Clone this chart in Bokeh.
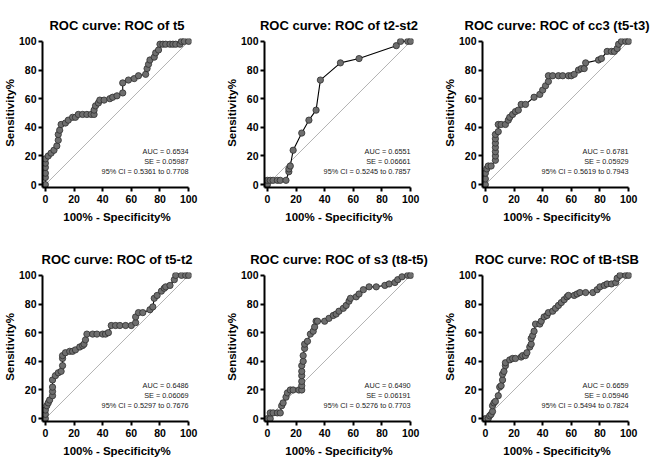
from bokeh.plotting import figure
from bokeh.layouts import column, row
from bokeh.models import Range1d, FixedTicker, ColumnDataSource
from bokeh.embed import file_html
from bokeh.resources import INLINE
from bokeh.core.properties import value

# ---------------- data ----------------
ticks = [0, 20, 40, 60, 80, 100]
chance_x = [0, 100]
chance_y = [0, 100]

titles = [
    "ROC curve: ROC of t5",
    "ROC curve: ROC of t2-st2",
    "ROC curve: ROC of cc3 (t5-t3)",
    "ROC curve: ROC of t5-t2",
    "ROC curve: ROC of s3 (t8-t5)",
    "ROC curve: ROC of tB-tSB",
]

x_label = "100% - Specificity%"
y_label = "Sensitivity%"

# 100% - Specificity% (x) and Sensitivity% (y)
t5_x = [0, 0, 0, 0, 0, 0, 2, 4, 6, 8, 9, 9, 10, 11, 14, 16, 19, 21, 23, 26, 29, 32, 34, 34, 35, 37,
        38, 41, 45, 47, 50, 54, 54, 58, 62, 65, 70, 71, 72, 73, 76, 77, 79, 80, 82, 84, 87, 89, 91,
        94, 95, 97, 100]
t5_y = [0, 5, 8, 12, 15, 18, 20, 22, 24, 27, 31, 35, 38, 42, 43, 45, 47, 47, 49, 49, 49, 49, 49, 52,
        55, 57, 59, 59, 60, 61, 62, 64, 71, 73, 74, 76, 77, 81, 84, 87, 89, 92, 94, 98, 98, 98, 98,
        98, 98, 98, 100, 100, 100]

t2st2_x = [0, 0, 2, 4, 7, 9, 13, 15, 15, 16, 18, 24, 29, 34, 37, 51, 64, 90, 93, 98, 100]
t2st2_y = [0, 3, 3, 3, 3, 3, 3, 9, 11, 13, 24, 36, 45, 52, 73, 85, 88, 97, 100, 100, 100]

cc3_x = [0, 0, 0, 1, 2, 4, 7, 7, 7, 7, 7, 7, 7, 9, 9, 11, 14, 16, 17, 19, 21, 23, 25, 28, 34, 38,
         40, 42, 44, 44, 47, 51, 54, 58, 60, 62, 65, 67, 69, 70, 79, 81, 85, 88, 90, 92, 93, 95, 98,
         100]
cc3_y = [0, 4, 8, 11, 13, 13, 17, 20, 23, 26, 29, 32, 35, 37, 42, 42, 42, 45, 47, 49, 51, 52, 56,
         56, 61, 63, 66, 69, 72, 76, 76, 76, 76, 76, 76, 77, 80, 81, 81, 85, 87, 88, 93, 93, 93, 95,
         98, 100, 100, 100]

t5t2_x = [0, 0, 0, 1, 2, 3, 5, 5, 5, 5, 7, 9, 11, 12, 12, 12, 14, 17, 19, 21, 24, 26, 27, 28, 29,
          33, 36, 40, 42, 44, 46, 49, 52, 56, 60, 63, 63, 65, 68, 73, 75, 76, 78, 81, 83, 84, 87,
          90, 91, 95, 98, 100]
t5t2_y = [0, 3, 6, 9, 11, 13, 16, 19, 22, 27, 30, 32, 33, 37, 42, 44, 46, 47, 47, 48, 50, 51, 52,
          55, 59, 59, 59, 59, 59, 60, 65, 65, 65, 65, 65, 67, 71, 74, 74, 76, 78, 84, 86, 89, 91,
          92, 93, 97, 100, 100, 100, 100]

s3_x = [0, 2, 2, 4, 7, 9, 10, 11, 13, 14, 16, 18, 22, 24, 24, 24, 24, 24, 24, 25, 25, 26, 26, 28,
        30, 32, 33, 34, 35, 40, 43, 46, 48, 50, 53, 55, 57, 58, 62, 64, 67, 71, 76, 82, 85, 89, 91,
        94, 98, 100]
s3_y = [0, 0, 4, 4, 4, 4, 9, 11, 15, 18, 20, 20, 20, 20, 23, 26, 30, 33, 37, 40, 44, 49, 52, 54,
        59, 61, 64, 68, 68, 68, 70, 72, 73, 75, 77, 79, 82, 84, 85, 87, 90, 92, 92, 93, 94, 95, 97,
        99, 100, 100]

tb_x = [0, 2, 3, 4, 5, 5, 6, 7, 9, 10, 11, 12, 12, 13, 14, 14, 17, 19, 21, 25, 26, 28, 29, 31, 32,
        32, 33, 34, 35, 38, 39, 41, 43, 44, 47, 49, 51, 53, 55, 57, 58, 62, 64, 66, 70, 75, 78, 80,
        83, 85, 88, 91, 92, 94, 98, 100]
tb_y = [0, 0, 2, 3, 5, 9, 11, 12, 16, 22, 23, 27, 31, 33, 37, 39, 41, 42, 42, 43, 44, 44, 46, 50,
        52, 56, 58, 61, 66, 66, 68, 71, 72, 74, 75, 77, 79, 81, 83, 85, 86, 86, 87, 88, 88, 88, 90,
        92, 93, 94, 94, 95, 98, 100, 100, 100]

stats = [
    ["AUC = 0.6534", "SE = 0.05987", "95% CI = 0.5361 to 0.7708"],
    ["AUC = 0.6551", "SE = 0.06661", "95% CI = 0.5245 to 0.7857"],
    ["AUC = 0.6781", "SE = 0.05929", "95% CI = 0.5619 to 0.7943"],
    ["AUC = 0.6486", "SE = 0.06069", "95% CI = 0.5297 to 0.7676"],
    ["AUC = 0.6490", "SE = 0.06191", "95% CI = 0.5276 to 0.7703"],
    ["AUC = 0.6659", "SE = 0.05946", "95% CI = 0.5494 to 0.7824"],
]

series = [(t5_x, t5_y), (t2st2_x, t2st2_y), (cc3_x, cc3_y),
          (t5t2_x, t5t2_y), (s3_x, s3_y), (tb_x, tb_y)]

FONT = "Liberation Sans"
FRAME = 149


def make_panel(title, xs, ys, stat, left, right, top, bottom):
    p = figure(frame_width=FRAME, frame_height=FRAME, output_backend="svg",
               toolbar_location=None,
               x_range=Range1d(-2, 102), y_range=Range1d(-2, 102),
               min_border_left=left, min_border_right=right,
               min_border_top=top, min_border_bottom=bottom,
               x_axis_label=x_label, y_axis_label=y_label, title=title)
    p.outline_line_color = None
    p.grid.visible = False
    p.background_fill_color = "white"
    p.border_fill_color = "white"

    p.title.align = "center"
    p.title.text_font = FONT
    p.title.text_font_style = "bold"
    p.title.text_font_size = "13px"
    p.title.text_color = "black"
    p.title.standoff = 12

    for ax in (p.xaxis[0], p.yaxis[0]):
        ax.ticker = FixedTicker(ticks=ticks)
        ax.bounds = (-2, 100)
        ax.axis_line_width = 2
        ax.axis_line_color = "black"
        ax.major_tick_line_width = 2
        ax.major_tick_line_color = "black"
        ax.major_tick_out = 4
        ax.major_tick_in = 0
        ax.minor_tick_line_color = None
        ax.major_label_text_font = FONT
        ax.major_label_text_font_style = "bold"
        ax.major_label_text_font_size = "10.5px"
        ax.major_label_text_color = "black"
        ax.major_label_standoff = 2
        ax.axis_label_text_font = FONT
        ax.axis_label_text_font_style = "bold"
        ax.axis_label_text_font_size = "11.5px"
        ax.axis_label_text_color = "black"
    p.xaxis[0].major_label_standoff = 3
    p.xaxis[0].axis_label_standoff = 5
    p.yaxis[0].axis_label_standoff = 0

    p.line(chance_x, chance_y, line_color="#a0a0a0", line_width=0.8)
    src = ColumnDataSource(dict(x=xs, y=ys))
    p.line("x", "y", source=src, line_color="black", line_width=1.1)
    p.scatter("x", "y", source=src, size=6.3, fill_color="#6e6e6e",
              line_color="#2e2e2e", line_width=0.8)

    tsrc = ColumnDataSource(dict(x=[100, 100, 100], y=[23, 16, 9], t=stat))
    p.text("x", "y", text="t", source=tsrc, text_align="right", text_baseline="middle",
           text_font=value(FONT), text_font_size="7.3px", text_color="#1a1a1a")
    return p


# column borders: (left, right); row borders: (top, bottom)
cols = [(35, 31), (39, 27), (40, 20)]
rows_geom = [(38, 47), (38, 33)]

panels = []
for i in range(6):
    r, c = divmod(i, 3)
    l, rt = cols[c]
    t, b = rows_geom[r]
    panels.append(make_panel(titles[i], series[i][0], series[i][1], stats[i], l, rt, t, b))

layout = column(row(panels[0], panels[1], panels[2], spacing=0),
                row(panels[3], panels[4], panels[5], spacing=0), spacing=0)

open("out.html", "w").write(file_html(layout, INLINE))
